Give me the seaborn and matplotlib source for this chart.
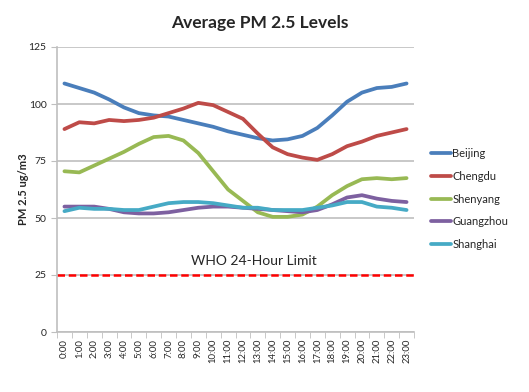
import matplotlib
matplotlib.use("Agg")
from matplotlib import pyplot as plt
from matplotlib.ticker import FixedLocator
import pandas as pd
import numpy as np
import seaborn as sns

hours = [f"{h}:00" for h in range(24)]

beijing = [109, 107, 105, 102, 98.5, 96, 95, 94.5, 93, 91.5, 90, 88, 86.5, 85,
           84, 84.5, 86, 89.5, 95, 101, 105, 107, 107.5, 109]
chengdu = [89, 92, 91.5, 93, 92.5, 93, 94, 96, 98, 100.5, 99.5, 96.5, 93.5, 87,
           81, 78, 76.5, 75.5, 78, 81.5, 83.5, 86, 87.5, 89]
shenyang = [70.5, 70, 73, 76, 79, 82.5, 85.5, 86, 84, 78.5, 70.5, 62.5, 57.5, 52.5,
            50.5, 50.5, 51.5, 55, 60, 64, 67, 67.5, 67, 67.5]
guangzhou = [55, 55, 55, 54, 52.5, 52, 52, 52.5, 53.5, 54.5, 55, 55, 54.5, 54,
             53.5, 53, 52.5, 53.5, 56, 59, 60, 58.5, 57.5, 57]
shanghai = [53, 54.5, 54, 54, 53.5, 53.5, 55, 56.5, 57, 57, 56.5, 55.5, 54.5, 54.5,
            53.5, 53.5, 53.5, 54.5, 55.5, 57, 57, 55, 54.5, 53.5]

cities = ["Beijing", "Chengdu", "Shenyang", "Guangzhou", "Shanghai"]
colors = ["#4A7EBB", "#BE4B48", "#98B954", "#7D60A0", "#46AAC5"]
who_limit = 25

series = [beijing, chengdu, shenyang, guangzhou, shanghai]
df = pd.DataFrame({
    "hour": np.tile(np.arange(24), len(cities)),
    "pm": np.concatenate(series),
    "city": np.repeat(cities, 24),
})

sns.set_style("white")
plt.rcParams["font.family"] = ["Lato", "DejaVu Sans"]

fig = plt.figure(figsize=(5.29, 3.92), dpi=100)
ax = fig.add_axes([57 / 529, 1 - 332 / 392, (414 - 57) / 529, (332 - 47) / 392])

ax.set_yticks(np.arange(0, 126, 25))
ax.yaxis.grid(True, color="#BFBFBF", linewidth=1.2)
ax.set_axisbelow(True)

sns.lineplot(data=df, x="hour", y="pm", hue="city", palette=colors,
             linewidth=2.7, ax=ax)
ax.axhline(who_limit, color="#FF0000", linestyle=(0, (3, 1.5)), linewidth=1.8)
ax.text(0.375, who_limit + 3.5, "WHO 24-Hour Limit", transform=ax.get_yaxis_transform(),
        fontsize=10, ha="left", va="bottom")

ax.set_xlim(-0.5, 23.5)
ax.set_ylim(0, 125)
ax.set_xticks(range(24))
ax.set_xticklabels(hours, rotation=90, fontsize=6.8)
ax.xaxis.set_minor_locator(FixedLocator(np.arange(-0.5, 24, 1)))
ax.tick_params(axis="x", which="major", length=0, pad=5)
ax.tick_params(axis="x", which="minor", length=4, color="#BFBFBF", direction="out", bottom=True)
ax.tick_params(axis="y", length=4, color="#BFBFBF", direction="out", left=True, labelsize=7.5)

for side in ["top", "right"]:
    ax.spines[side].set_visible(False)
for side in ["left", "bottom"]:
    ax.spines[side].set_color("#BFBFBF")
    ax.spines[side].set_linewidth(1.2)

ax.set_xlabel("")
ax.set_ylabel("PM 2.5 ug/m3", fontsize=8, fontweight="bold", labelpad=0)
fig.suptitle("Average PM 2.5 Levels", x=260 / 529, y=1 - 23 / 392, va="center",
             fontsize=12.5, fontweight="bold")

ax.legend(frameon=False, loc="upper left", bbox_to_anchor=(1.02, 0.68),
          fontsize=8, handlelength=1.8, handletextpad=0.1, labelspacing=1.05)

plt.savefig("out.png", dpi=100)
